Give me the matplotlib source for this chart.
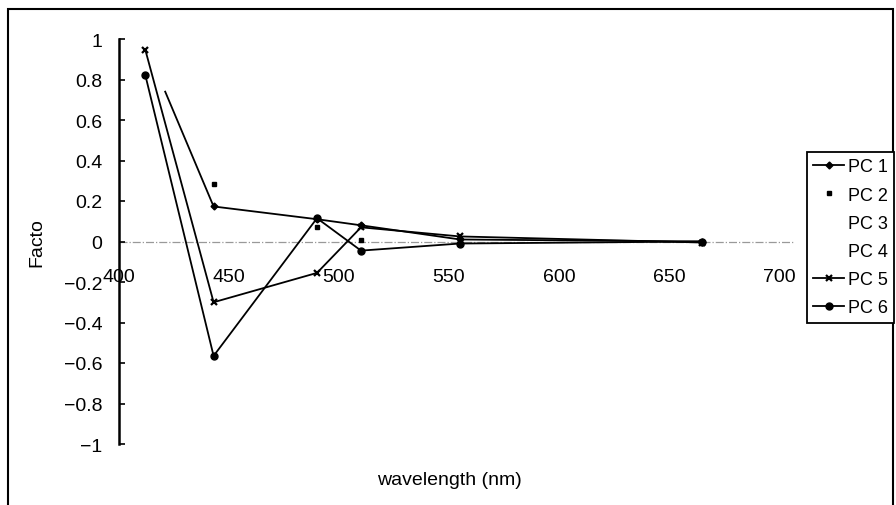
import numpy as np
import matplotlib.pyplot as plt
from matplotlib.patches import Rectangle
from matplotlib.ticker import FuncFormatter

plt.rcParams['font.family'] = ['Liberation Sans', 'DejaVu Sans']

# band centres (nm)
bands = [412, 443, 490, 510, 555, 665]

# factor loadings
pc1_x = [421, 443, 490, 510, 555, 665]   # PC 1 line starts a bit right of the first band
pc1 = [0.74, 0.173, 0.11, 0.08, 0.01, 0.0]
pc2 = [np.nan, 0.285, 0.07, 0.005, 0.0, 0.0]
pc5 = [0.945, -0.30, -0.155, 0.07, 0.025, -0.005]
pc6 = [0.82, -0.565, 0.115, -0.045, -0.01, 0.0]

xticks = [400, 450, 500, 550, 600, 650, 700]
yticks = [-1, -0.8, -0.6, -0.4, -0.2, 0, 0.2, 0.4, 0.6, 0.8, 1]

fig = plt.figure(figsize=(8.96, 5.06), dpi=100)
ax = fig.add_axes([119/896, 1 - 445/506, 660/896, 405/506])

ax.plot(pc1_x, pc1, color='black', lw=1.3, marker='D', ms=3.5, markevery=slice(1, None), label='PC 1')
ax.plot(bands, pc2, color='black', ls='none', marker='s', ms=3, label='PC 2')
ax.plot([], [], ls='none', label='PC 3')
ax.plot([], [], ls='none', label='PC 4')
ax.plot(bands, pc5, color='black', lw=1.3, marker='x', ms=5, mew=1.6, label='PC 5')
ax.plot(bands, pc6, color='black', lw=1.3, marker='o', ms=5, label='PC 6')

# zero line (x axis crossing)
ax.plot([400, 707], [0, 0], color='#999999', lw=0.9, ls='-.', clip_on=False, zorder=0)

ax.set_xlim(400, 700)
ax.set_ylim(-1, 1)
ax.set_xticks(xticks)
ax.set_yticks(yticks)
ax.yaxis.set_major_formatter(FuncFormatter(lambda v, p: ('%g' % v).replace('-', '\u2212')))

for s in ['top', 'right', 'bottom']:
    ax.spines[s].set_visible(False)
ax.spines['left'].set_linewidth(1.8)
ax.spines['bottom'].set_position(('data', 0))

ax.tick_params(axis='x', length=0, pad=19, labelsize=14)
ax.tick_params(axis='y', direction='in', length=4, width=1.2, pad=12, labelsize=14)
ax.patch.set_visible(False)

fig.text(37/896, 1 - 243/506, 'Facto', rotation=90, ha='center', va='center', fontsize=14)
fig.text(449/896, 1 - 481/506, 'wavelength (nm)', ha='center', va='center', fontsize=14)

leg = fig.legend(loc='upper right', bbox_to_anchor=(894/896, 1 - 153/506), fontsize=13,
                 frameon=True, fancybox=False, edgecolor='black', framealpha=1,
                 borderpad=0.35, labelspacing=0.62, handlelength=1.7, handletextpad=0.2,
                 borderaxespad=0)
leg.get_frame().set_linewidth(1.3)

# outer chart frame
fig.patches.append(Rectangle((8/896, -0.05), 885/896, 1.05 - 10/506, transform=fig.transFigure,
                             fill=False, edgecolor='black', lw=1.5))

fig.savefig('out.png', dpi=100)
